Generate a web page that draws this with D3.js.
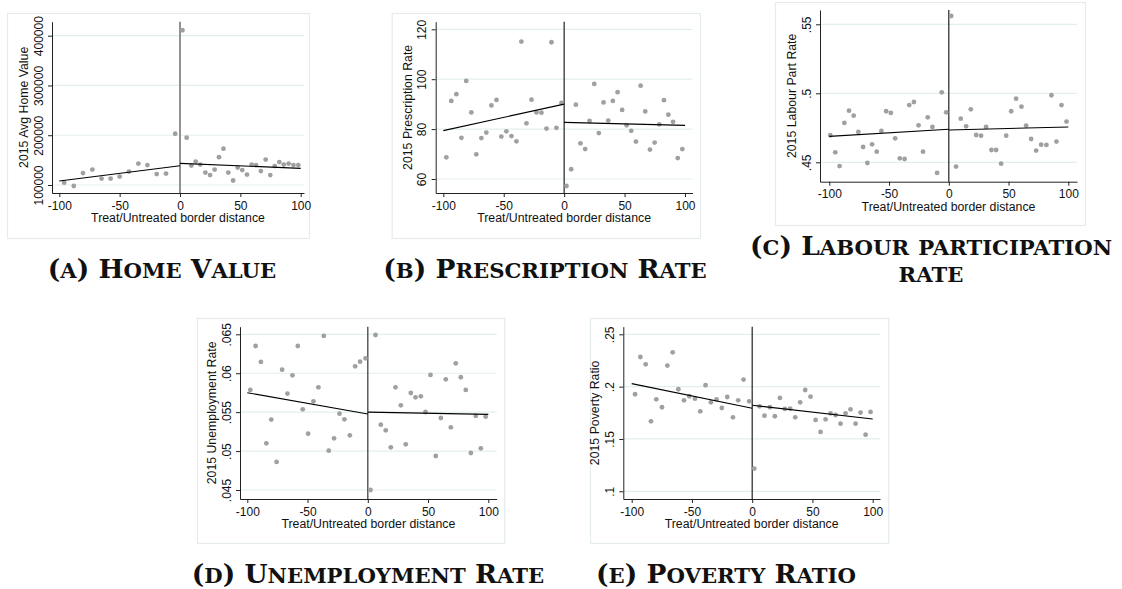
<!DOCTYPE html>
<html>
<head>
<meta charset="utf-8">
<script src="https://cdn.jsdelivr.net/npm/d3@7"></script>
<style>
  body { margin: 0; background: #fff; }
  svg text { font-family: "Liberation Sans", Arial, sans-serif; fill: #111; }
  .cap { font-family: "DejaVu Serif", "Liberation Serif", serif; font-weight: bold; }
</style>
</head>
<body>
<svg id="fig" width="1122" height="589"></svg>
<script>
// shared x axis ticks (border distance)
const xTicks = [-100, -50, 0, 50, 100];

// (a) home value
const homeX = [-96, -88, -80.4, -72.6, -65, -57.5, -50, -42.3, -34.5, -27, -19.3, -11.6, -4,
  2, 5.5, 9.4, 13, 16.8, 21, 24.9, 28.7, 32.3, 36, 40, 44, 47.8, 51.6, 55.5, 59.4, 63, 67, 71, 74.8, 78.5, 82.3, 86, 90, 94, 98];
const homeY = [104700, 98000, 124000, 131000, 113000, 113000, 117000, 127000, 143000, 140000, 122000, 123000, 203000,
  411000, 195000, 139000, 147000, 141000, 125000, 120000, 131000, 156000, 173000, 125000, 109000, 135000, 130000, 121000,
  141000, 140000, 128000, 151000, 120000, 138000, 146000, 141000, 143000, 140000, 140000];
const homeFit = [108000, 138700, 143400, 133500]; // at -100, 0 (left), 0 (right), 100
const homeTicks = [100000, 200000, 300000, 400000];
const homeTickLabels = ["100000", "200000", "300000", "400000"];

// (b) prescription rate
const presX = [-97.5, -93.4, -89.2, -85, -81, -76.8, -72.7, -68.5, -64.4, -60.2, -56, -52, -47.8, -43.6, -39.5, -35.4, -31.2, -27, -22.9, -18.8, -14.6, -10.5, -6.4, -2.2,
  1.9, 5.8, 9.7, 13.5, 17.4, 21, 24.9, 28.7, 32.6, 36.5, 40.3, 44.2, 48, 51.7, 55.5, 59.4, 63.3, 67.1, 71, 74.9, 78.7, 82.6, 86.2, 90.1, 94, 97.8];
const presY = [68.7, 91.3, 94, 76.5, 99.3, 86.7, 69.9, 76.4, 78.6, 89.5, 91.7, 77, 79.1, 77.2, 75.1, 115.1, 82.3, 91.8, 86.7, 86.6, 80.2, 114.8, 80.5, 90.5,
  57.2, 63.9, 89.8, 74.3, 72, 83.3, 98.1, 78.4, 90.7, 83.4, 91.3, 94.8, 87.7, 81.5, 79.3, 75, 97.4, 87.1, 71.8, 74.6, 81.9, 91.6, 85.8, 82.9, 68.4, 72];
const presFit = [79.4, 90, 82.7, 81.5];
const presTicks = [60, 80, 100, 120];
const presTickLabels = ["60", "80", "100", "120"];

// (c) labour participation rate
const labX = [-99.2, -95, -91.4, -87.4, -83.5, -79.6, -75.7, -71.7, -68.1, -64.2, -60.3, -56.4, -52.4, -48.5, -44.9, -41, -37, -33.1, -29.2, -25.3, -21.6, -17.6, -13.7, -9.8, -5.9, -2.2,
  2, 6.1, 10, 14.5, 18.4, 22.9, 27, 31.2, 35.7, 39.6, 43.8, 48, 52.2, 56.3, 60.8, 64.7, 68.9, 73.1, 77.3, 81.7, 85.9, 90.1, 94.3, 98.5];
const labY = [.4696, .4572, .4473, .4785, .4874, .4838, .472, .4611, .4495, .463, .4577, .4727, .487, .4858, .4674, .4529, .4524, .4915, .4937, .4768, .4577, .4826, .4756, .4423, .5007, .4862,
  .556, .4469, .4816, .4761, .4884, .4698, .4693, .4756, .4589, .4589, .449, .4693, .487, .4961, .4903, .4766, .4669, .4585, .4628, .4626, .4986, .465, .4915, .4795];
const labFit = [.4688, .4739, .4734, .4756];
const labTicks = [.45, .5, .55];
const labTickLabels = [".45", ".5", ".55"];

// (d) unemployment rate
const unempX = [-97.5, -93.1, -88.7, -84.2, -80.1, -75.7, -71.1, -66.7, -62.5, -58.1, -54, -49.5, -45.1, -41, -36.5, -32.4, -28, -23.5, -19.4, -14.9, -10.5, -6.4, -1.9,
  2.2, 6.4, 10.8, 14.9, 19.1, 23, 27.4, 31.5, 35.7, 39.6, 44, 47.9, 52, 56.4, 60.6, 64.7, 68.9, 73, 77.2, 81.3, 85.5, 89.6, 93.8, 97.8];
const unempY = [.05785, .0635, .06145, .051, .05404, .0486, .06046, .05738, .05973, .0635, .05536, .05224, .05639, .05819, .06479, .05005, .05164, .05481, .05408, .05202, .06089, .06149, .06192,
  .045, .06491, .05339, .05267, .05048, .05819, .05588, .05087, .05746, .0569, .05703, .05502, .05978, .04937, .05425, .05922, .05305, .06127, .05948, .05785, .04975, .05451, .05035, .05442];
const unempFit = [.0575, .05476, .0550, .05472];
const unempTicks = [.045, .05, .055, .06, .065];
const unempTickLabels = [".045", ".05", ".055", ".06", ".065"];

// (e) poverty ratio
const povX = [-97.2, -92.8, -88.4, -84, -79.6, -74.9, -70.4, -66, -61.3, -56.6, -52.2, -47.5, -43.1, -38.7, -34.3, -29.6, -25.2, -20.7, -16, -11.6, -7.2, -2.5,
  1.7, 6.1, 10.2, 14.7, 18.8, 23, 27.1, 31.5, 35.7, 39.8, 44, 48.4, 52.6, 56.7, 60.9, 65, 69.2, 73.3, 77.5, 81.6, 85.8, 89.9, 94.1, 98.2];
const povY = [.1927, .2283, .2213, .1669, .1879, .1803, .2201, .2328, .1975, .1869, .1908, .1885, .1764, .2013, .185, .1879, .1796, .1901, .1707, .1869, .2067, .186,
  .1217, .1812, .1723, .1803, .1717, .1892, .1787, .179, .1707, .185, .1968, .1904, .1682, .1567, .1688, .1745, .1729, .1646, .1745, .1783, .1646, .1752, .1541, .1758];
const povFit = [.2029, .1793, .1822, .1691];
const povTicks = [.1, .15, .2, .25];
const povTickLabels = [".1", ".15", ".2", ".25"];

// panel layout: tick pixel anchors, plot region, frame, caption
const panels = [
  {xs: homeX, ys: homeY, fit: homeFit, ticks: homeTicks, labels: homeTickLabels, ytitle: "2015 Avg Home Value",
   xr: [59.3, 300.7], px: [52, 304], yr: [185, 35.7], py: [21.7, 193], box: [7, 13, 309, 238], zero: "#777", zeroW: 1.6,
   cap: ["(a) Home Value"], capX: 162, capY: [278]},
  {xs: presX, ys: presY, fit: presFit, ticks: presTicks, labels: presTickLabels, ytitle: "2015 Prescription Rate",
   xr: [443.3, 685], px: [435.7, 692.5], yr: [179, 29.3], py: [21.7, 193], box: [391.7, 13, 700, 238], zero: "#222", zeroW: 1.2,
   cap: ["(b) Prescription Rate"], capX: 545, capY: [278]},
  {xs: labX, ys: labY, fit: labFit, ticks: labTicks, labels: labTickLabels, ytitle: "2015 Labour Part Rate",
   xr: [829.3, 1068.3], px: [820, 1077], yr: [162.3, 24.3], py: [10, 181.7], box: [775, 2, 1085, 225], zero: "#222", zeroW: 1.2,
   cap: ["(c) Labour participation", "rate"], capX: 931, capY: [255, 282]},
  {xs: unempX, ys: unempY, fit: unempFit, ticks: unempTicks, labels: unempTickLabels, ytitle: "2015 Unemployment Rate",
   xr: [247.3, 488.3], px: [240, 496.7], yr: [490, 334.3], py: [326.7, 499], box: [197, 318, 504.3, 543], zero: "#444", zeroW: 1.3,
   cap: ["(d) Unemployment Rate"], capX: 368, capY: [583]},
  {xs: povX, ys: povY, fit: povFit, ticks: povTicks, labels: povTickLabels, ytitle: "2015 Poverty Ratio",
   xr: [631.7, 872.7], px: [623.3, 880], yr: [491.3, 334.3], py: [326.7, 499], box: [590, 318, 888.3, 543], zero: "#222", zeroW: 1.2,
   cap: ["(e) Poverty Ratio"], capX: 726, capY: [583]}
];

const svg = d3.select("#fig");

// small caps: capitals full size, lower case letters as smaller capitals
function smallCaps(sel, str, size){
  const runs = [];
  for (const ch of str){
    const small = ch !== ch.toUpperCase();
    if (runs.length && runs[runs.length-1].small === small) runs[runs.length-1].t += ch;
    else runs.push({small: small, t: ch});
  }
  sel.selectAll("tspan").data(runs).join("tspan")
    .attr("font-size", d => d.small ? size * 0.8 : size)
    .text(d => d.small ? d.t.toUpperCase() : d.t);
}

panels.forEach(function(p){
  const g = svg.append("g");

  const x0 = d3.scaleLinear().domain([-100, 100]).range(p.xr);
  const x = d3.scaleLinear().domain([x0.invert(p.px[0]), x0.invert(p.px[1])]).range(p.px);
  const t0 = p.ticks[0], t1 = p.ticks[p.ticks.length-1];
  const y0 = d3.scaleLinear().domain([t0, t1]).range(p.yr);
  const y = d3.scaleLinear().domain([y0.invert(p.py[1]), y0.invert(p.py[0])]).range([p.py[1], p.py[0]]);

  // frame
  g.append("rect")
    .attr("x", p.box[0] + .5).attr("y", p.box[1] + .5)
    .attr("width", p.box[2] - p.box[0]).attr("height", p.box[3] - p.box[1])
    .attr("fill", "#fff").attr("stroke", "#e4ecee").attr("stroke-width", 1.2);

  // gridlines
  g.selectAll(".grid").data(p.ticks).join("line")
    .attr("x1", p.px[0]).attr("x2", p.px[1])
    .attr("y1", d => y(d)).attr("y2", d => y(d))
    .attr("stroke", "#e3eef0").attr("stroke-width", 1.2);

  // border line at zero
  g.append("line")
    .attr("x1", x(0)).attr("x2", x(0)).attr("y1", p.py[0]).attr("y2", p.py[1])
    .attr("stroke", p.zero).attr("stroke-width", p.zeroW);

  // binned scatter
  g.selectAll(".pt").data(p.xs).join("circle")
    .attr("cx", d => x(d)).attr("cy", (d, i) => y(p.ys[i]))
    .attr("r", 2.4).attr("fill", "#a0a0a0");

  // linear fits each side of the border
  const fitLine = d3.line().x(d => x(d[0])).y(d => y(d[1]));
  [[[-100, p.fit[0]], [0, p.fit[1]]], [[0, p.fit[2]], [100, p.fit[3]]]].forEach(function(seg){
    g.append("path").attr("d", fitLine(seg)).attr("fill", "none")
      .attr("stroke", "#000").attr("stroke-width", 1.1);
  });

  // axes
  const xa = g.append("g").attr("transform", "translate(0," + p.py[1] + ")")
    .call(d3.axisBottom(x).tickValues(xTicks).tickSize(4).tickSizeOuter(0).tickPadding(4).tickFormat(d => String(d)));
  xa.selectAll("text").attr("font-size", 12).attr("font-family", "Liberation Sans, Arial, sans-serif");

  const ya = g.append("g").attr("transform", "translate(" + p.px[0] + ",0)")
    .call(d3.axisLeft(y).tickValues(p.ticks).tickSize(4).tickSizeOuter(0).tickFormat((d, i) => p.labels[i]));
  ya.selectAll("text")
    .attr("font-size", 12).attr("font-family", "Liberation Sans, Arial, sans-serif")
    .attr("transform", "rotate(-90)").attr("text-anchor", "middle")
    .attr("x", 0).attr("y", -9.5).attr("dy", 0);
  g.selectAll(".domain, .tick line").attr("stroke", "#222");

  // axis titles
  g.append("text")
    .attr("x", (p.px[0] + p.px[1]) / 2).attr("y", p.py[1] + 29)
    .attr("text-anchor", "middle").attr("font-size", 12.3)
    .text("Treat/Untreated border distance");
  const cy = (p.py[0] + p.py[1]) / 2;
  g.append("text")
    .attr("transform", "translate(" + (p.px[0] - 24) + "," + cy + ") rotate(-90)")
    .attr("text-anchor", "middle").attr("font-size", 12.3)
    .text(p.ytitle);

  // caption
  p.cap.forEach(function(line, i){
    const t = g.append("text").attr("class", "cap")
      .attr("x", p.capX).attr("y", p.capY[i]).attr("text-anchor", "middle");
    smallCaps(t, line, 26.5);
  });
});
</script>
</body>
</html>
